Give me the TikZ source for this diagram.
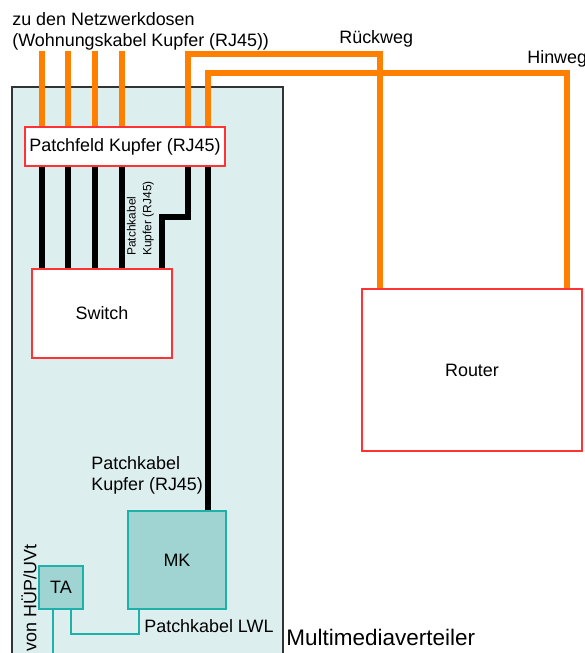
\documentclass[tikz,border=0pt]{standalone}
\usepackage{fontspec}
\setmainfont{Liberation Sans}
\usetikzlibrary{positioning}
\definecolor{CableOrange}{HTML}{FF8000}
\definecolor{CabinetFill}{HTML}{DDEEEE}
\definecolor{BoxRed}{HTML}{FF3333}
\definecolor{FiberTeal}{HTML}{1FB0AA}
\definecolor{FiberFill}{HTML}{A0D4D2}

\begin{document}
\begin{tikzpicture}[x=0.02cm, y={(0cm,-0.02cm)},
    every node/.style={font=\fontsize{10.2}{12}\selectfont, inner sep=0pt},
    redbox/.style={draw=BoxRed, fill=white, line width=0.6pt},
    tealbox/.style={draw=FiberTeal, fill=FiberFill, line width=0.8pt},
    kupfer/.style={CableOrange, line width=3.6pt},
    patch/.style={black, line width=3.4pt},
    lwl/.style={FiberTeal, line width=1.2pt}]
    \useasboundingbox (0,0) rectangle (585,653);
    \clip (0,0) rectangle (585,653);
    % Multimediaverteiler
    \draw[fill=CabinetFill, draw=black!80, line width=0.6pt] (12,87) rectangle (283,700);
    \node[anchor=base west, font=\fontsize{12.8}{15}\selectfont] (mmv) at (286,645) {Multimediaverteiler};

    \node[redbox, minimum width=4cm, minimum height=0.78cm] (pf) at (125,146.5) {Patchfeld Kupfer (RJ45)};
    \node[redbox, minimum width=2.8cm, minimum height=1.78cm] (sw) at (102,313.5) {Switch};
    \node[redbox, minimum width=4.4cm, minimum height=3.24cm] (router) at (472,370) {Router};
    \node[tealbox, minimum width=1.96cm, minimum height=1.96cm] (mk) at (177,560) {MK};
    \node[tealbox, minimum width=0.88cm, minimum height=0.86cm] (ta) at (61,587.5) {TA};

    \coordinate (rueck) at (380,54);
    \coordinate (hin) at (567,73);
    \coordinate (knick) at (162,217);
    \coordinate (lwlknick) at (139,634);

    % Kupfer zu den Dosen und Patchkabel zum Switch
    \foreach \x in {42,68,95,122} {
      \draw[kupfer] (\x,51) -- (\x,0 |- pf.north);
      \draw[patch] (\x,0 |- pf.south) -- (\x,0 |- sw.north);
    }
    \draw[kupfer] (188,0 |- pf.north) |- (rueck) -- (rueck |- router.north);
    \draw[kupfer] (208,0 |- pf.north) |- (hin) -- (hin |- router.north);
    \draw[patch] (188,0 |- pf.south) |- (knick) -- (knick |- sw.north);
    \draw[patch] (208,0 |- pf.south) -- (208,0 |- mk.north);
    \draw[lwl] (53,0 |- ta.south) -- (53,660);
    \draw[lwl] (71,0 |- ta.south) |- (lwlknick) -- (lwlknick |- mk.south);

    \node[anchor=north west, align=left] (dosen) at (12,12) {zu den Netzwerkdosen\\(Wohnungskabel Kupfer (RJ45))};
    \node[anchor=base west] (rueckl) at (339,43) {R\"uckweg};
    \node[anchor=base west] (hinl) at (527,63) {Hinweg};
    \node[rotate=90, align=left, font=\fontsize{6.8}{9}\selectfont] (patchsw) at (140.5,218.5) {Patchkabel\\Kupfer (RJ45)};
    \node[anchor=north west, align=left] (patchmk) at (91,456) {Patchkabel\\Kupfer (RJ45)};
    \node[anchor=base west] (lwll) at (144,632) {Patchkabel LWL};
    \node[rotate=90] (huep) at (29,598) {von H\"UP/UVt};
\end{tikzpicture}
\end{document}
